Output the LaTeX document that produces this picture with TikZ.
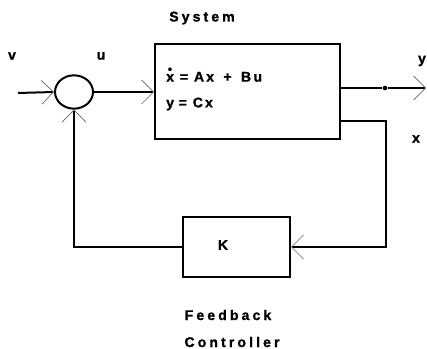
\documentclass[tikz,border=0pt]{standalone}
\usepackage{fontspec}
\setmainfont{Liberation Sans}[BoldFeatures={FakeBold=1.2}]
\usetikzlibrary{arrows.meta,positioning,shapes.geometric}

\newcommand{\xdotb}{\makebox[0pt][l]{\raisebox{0.6em}{\hspace{0.12em}\fontsize{10}{10}\selectfont\textbullet}}x}

\begin{document}
\begin{tikzpicture}[
  x=0.03cm, y=-0.03cm,
  font=\fontsize{12}{14}\selectfont\bfseries\addfontfeature{LetterSpace=22},
  wire/.style={line width=1.7pt, black},
  tip/.style={-{Straight Barb[length=3.6mm, width=7.2mm, line width=0.6pt, color=black!60]}},
  block/.style={rectangle, draw, line width=1.7pt, inner sep=0pt},
  summer/.style={ellipse, draw, line width=1.7pt, minimum width=1.14cm, minimum height=1.0cm, inner sep=0pt},
  lbl/.style={inner sep=0pt},
]
\useasboundingbox (0,0) rectangle (427,349);

% ---------- blocks
\node[summer] (sum) at (74,92) {};
\node[block, minimum width=5.55cm, minimum height=2.85cm] (sys) at (247.5,91.5) {};
\node[block, minimum width=3.21cm, minimum height=1.8cm] (ctrl) at (236.5,247) {};

\node[lbl, anchor=west, align=left, font=\fontsize{12}{14}\selectfont\bfseries\addfontfeature{LetterSpace=15}]
  (eqs) at (166,89)
  {\xdotb\hspace{5pt}=\hspace{5pt}Ax\hspace{8pt}+\hspace{8pt}B\hspace{2pt}u\\[8pt]
   y\hspace{4pt}=\hspace{5pt}Cx};
\node[lbl] (ksym) at (223,245) {K};
\node[lbl] (systitle) at (202,18) {System};
\node[lbl] (fbtitle) at (228,315) {Feedback};
\node[lbl] (ctitle) at (232,342) {Controller};

% ---------- signal labels
\node[lbl] (vlab) at (12,56) {v};
\node[lbl] (ulab) at (101,56) {u};
\node[lbl] (ylab) at (422,61) {y};
\node[lbl] (xlab) at (416,139) {x};

% ---------- free ends and corners
\coordinate (vin) at (18,93);
\coordinate (yout) at (426,88);
\coordinate (xturn) at (386,121);
\node[circle, fill=black, inner sep=0pt, minimum size=4pt] (ydot) at (385,88) {};

% ---------- connectors
\draw[wire, tip] (vin) -- (sum.west);
\draw[wire, tip] (sum.east) -- (sys.west |- sum.east);
\draw[wire, tip] (sys.east |- yout) -- (ydot) -- (yout);
\draw[wire, tip] (sys.east |- xturn) -- (xturn) |- (ctrl.east);
\draw[wire, tip] (ctrl.west) -| (sum.south);
\end{tikzpicture}
\end{document}
